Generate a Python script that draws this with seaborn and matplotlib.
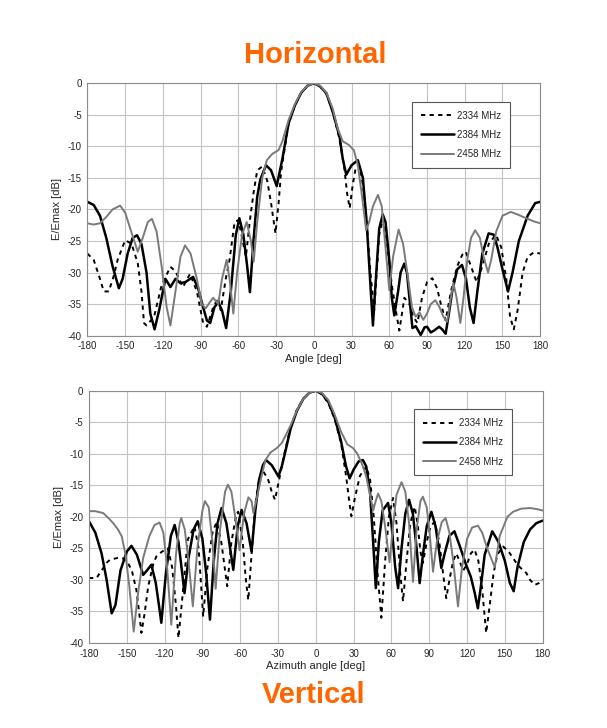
import numpy as np
import pandas as pd
import matplotlib
matplotlib.use("Agg")
import matplotlib.pyplot as plt
import seaborn as sns

# ---- Horizontal cut ----
h_2334_deg = [-180, -175, -170, -167, -163, -159, -156, -150, -145, -140, -137, -135, -133, -127, -121, -114, -110,
              -104, -98.4, -93, -88, -85, -80, -76, -74, -70, -67, -63, -60, -57, -54, -51, -48, -45, -41, -37, -34,
              -30.5, -28, -26, -20, -15, -10, -5, 0, 5, 10, 15, 20, 24, 26.5, 28.5, 31, 33.5, 36, 39, 42, 45, 48, 50,
              52, 55, 58, 62, 66, 68, 72, 76, 79, 82.4, 86, 90, 94.2, 98, 101, 104.8, 109, 114, 118, 120.8, 124,
              129.4, 134, 139, 144.7, 149, 153, 156, 159, 162, 166, 170, 175, 180]
h_2334_db = [-27, -28, -31, -33, -33, -30.5, -28, -24.9, -25.4, -28.5, -33, -38, -38.4, -37, -32, -29.1, -29.8,
             -32.3, -30.2, -33, -38, -38.6, -35.5, -34, -36, -31, -28, -22, -21.7, -24.5, -27.5, -22, -17.5, -13.8,
             -13.2, -15.5, -19, -23.8, -19, -14, -6.3, -3.5, -1.5, -0.4, 0, -0.5, -1.7, -4.5, -8.5, -13, -17.5,
             -19.8, -16, -13.2, -13, -16, -22, -30, -36, -30, -24, -21.5, -25, -32, -37, -39.2, -34, -35, -37, -38,
             -34, -31.5, -30.9, -32.5, -35, -37.6, -33, -29, -27.2, -26.7, -28.5, -31.5, -29, -25.5, -24, -26, -31,
             -37, -39, -36, -30, -27.5, -26.8, -27]

h_2384_deg = [-180, -175, -170, -165, -160, -155, -152, -148, -144, -140.5, -137, -133, -130, -126.6, -123, -118,
              -114, -110, -106, -102, -96, -92, -88, -85, -82.4, -79, -76, -73, -69.7, -66, -62, -59.2, -56, -53,
              -50.8, -48, -45, -42.6, -38, -34, -29.5, -25, -20, -15, -10, -5, 0, 5, 10, 15, 20.5, 23, 25.8, 30, 35,
              39, 42, 45, 47, 49, 52, 54.8, 57, 60, 62, 64, 67, 69, 71.9, 74, 76, 78.4, 81, 85, 88, 90, 93, 95.6,
              99.6, 102, 104.8, 107, 110, 114, 117.8, 121, 124, 127, 130, 134, 139, 143, 146, 150, 154.4, 158, 163,
              170, 176, 180]
h_2384_db = [-18.8, -19.3, -21, -24.5, -29, -32.5, -31, -27, -24.5, -24.1, -25.5, -30, -36.5, -39, -36, -31, -32.3,
             -31, -31.7, -31.5, -30.7, -32.5, -35.5, -37.6, -38, -35.5, -34.7, -36, -38.8, -33, -24, -21.4, -24, -29,
             -33.1, -25, -18, -15.3, -13, -13.8, -16.3, -12, -6.3, -3.5, -1.5, -0.4, 0, -0.5, -1.6, -4.5, -8.5, -12,
             -14.5, -13, -12.2, -15, -22, -32, -38.4, -32, -23, -20.8, -22, -28, -34, -36.8, -33, -30, -28.6, -30,
             -34, -38.8, -38.5, -39.9, -38.7, -38.6, -39.5, -39.2, -38.6, -39, -39.7, -37, -33, -29.5, -28.8, -31,
             -35.5, -38, -33, -27, -23.8, -24, -26, -29.5, -33, -30, -25, -21, -19, -18.8]

h_2458_deg = [-180, -175, -170, -165, -160, -154, -150, -146, -140, -136, -132, -128.7, -125, -121, -117, -114, -110,
              -106, -102.4, -98, -93, -89, -86, -83, -80, -76, -73, -69.3, -67, -64, -61, -57, -53.4, -50, -47.8,
              -45, -41, -37.4, -33, -28, -25, -20, -15, -10, -5, 0, 5, 10, 15, 19, 23, 28, 31.8, 35, 38.4, 41.6, 44,
              47, 51, 54, 57, 60, 63, 67.4, 71, 75, 78, 81, 84, 87, 90, 93, 96.6, 100, 103, 106, 108.5, 111, 113.5,
              116.5, 119, 122, 125, 128.3, 132, 135, 138.5, 141, 145, 150, 156.6, 162, 170, 175, 180]
h_2458_db = [-22.2, -22.4, -22.2, -21.2, -20, -19.4, -20.5, -23, -26.7, -24.5, -22, -21.5, -23.5, -29, -35.5, -38.4,
             -33, -27.5, -25.7, -27, -31, -35, -35.7, -34.8, -34, -35, -31, -28, -31, -36.5, -30, -24, -22, -25,
             -28.3, -22, -15, -12.2, -11.2, -10.6, -9.2, -5.8, -3.3, -1.4, -0.4, 0, -0.4, -1.5, -4, -7.2, -9.2,
             -9.8, -10.6, -13, -18, -23.3, -22, -19.5, -17.7, -19.5, -26, -32.8, -27.5, -23.2, -25.5, -31, -35.5,
             -37, -36.3, -37.5, -36.5, -35, -34.4, -35.5, -37, -37.8, -34.5, -31.7, -34, -38, -34, -28, -24.5, -23.3,
             -24.5, -27.5, -30, -28, -23.5, -21, -20.4, -20.8, -21.5, -21.9, -22.2]

# ---- Vertical cut ----
v_2334_deg = [-180, -174, -170, -166, -163.4, -157, -153, -150, -146, -142.4, -140, -138.4, -136, -133, -129, -126.6,
              -122, -117.4, -114, -111, -109, -106, -101.6, -96.3, -93, -91, -89.4, -86, -82, -78.7, -75, -72, -70.3,
              -67, -63, -61.6, -58, -55.5, -53.6, -51, -48, -45, -42, -38, -35, -32.4, -29, -25, -20, -15, -10, -5,
              0, 5, 10, 15, 20, 24, 26.5, 28.2, 31, 35, 40, 43, 46, 49, 52, 55, 58, 61.3, 64, 67, 69.2, 72, 75, 78.5,
              81, 83, 85, 88, 91, 94.3, 98, 101, 103.5, 106, 109, 111.5, 114, 117, 120, 123, 126, 129, 132, 135.2,
              138, 141, 144, 148.6, 153, 158, 162, 167, 170, 173.8, 177, 180]
v_2334_db = [-29.7, -29.7, -28.5, -27.3, -26.8, -26.5, -26.6, -27, -28.5, -31.6, -35.5, -38.4, -35.5, -31, -27.5,
             -26.3, -25.5, -25, -28, -34, -39.2, -33, -23.6, -21.5, -25, -31, -35.8, -28, -22.5, -20.8, -24, -28.5,
             -31, -24, -19.5, -19.2, -24, -30, -33.2, -26, -18, -14, -12.7, -14, -16, -17.3, -14, -10, -5.7, -3, -1.3,
             -0.3, 0, -0.6, -2, -4.5, -8.3, -13.5, -17.5, -19.9, -17, -13.5, -12, -14, -20, -29, -36, -27, -20, -17,
             -21, -29, -33.4, -27, -21, -18.4, -21.5, -25.5, -27.3, -24, -21.5, -20.8, -24, -29, -32.9, -30, -27,
             -25.8, -27, -28.5, -27.5, -25.8, -25.2, -27, -31.5, -38.4, -34, -29, -26, -24.7, -25.5, -27, -28, -28.9,
             -30, -30.8, -30.5, -29.9]

v_2384_deg = [-180, -175, -170, -166, -162, -159, -155, -150, -146.3, -142, -137, -134, -130.5, -127, -124.5, -122.6,
              -119, -115, -112, -109, -106, -104.2, -101, -97, -93.7, -90, -87, -84, -81, -78, -74.8, -71, -68, -65.5,
              -62, -58.9, -55, -51, -48, -45, -42, -39.5, -35, -32, -29.7, -27, -24, -20, -15, -10, -5, 0, 5, 10, 15,
              20, 24, 26.8, 30, 34, 37.4, 40, 43, 45.5, 47.6, 50, 53, 57.3, 60, 63, 65.3, 68, 71, 74, 77, 80, 82.4,
              85, 88, 91.7, 95, 97.5, 99.6, 102, 106, 110, 114, 119.4, 123, 126, 128.6, 131, 134, 140, 145, 150, 154,
              157, 160, 165, 170, 175, 180]
v_2384_db = [-20.7, -22.5, -25.8, -30, -35.3, -34, -28.5, -25.5, -24.6, -26, -29.2, -28.5, -27.6, -30.5, -34, -36.8,
             -29, -23, -21.3, -24, -29, -32.1, -26.5, -22, -20.7, -23.5, -29, -36.3, -27, -21, -18.6, -21, -25, -28.4,
             -21.5, -18.9, -21, -25.5, -19, -14.1, -11.8, -11, -11.8, -12.8, -13.6, -12, -9.5, -6, -3.2, -1.3, -0.3,
             0, -0.5, -1.8, -4.3, -8, -12, -13.9, -12.5, -11.2, -11, -12, -16, -24, -31.3, -24, -19, -17.8, -21, -28,
             -31.3, -25, -19.5, -17.3, -19.5, -25, -30.5, -26, -21.5, -19.2, -21.5, -25, -28.1, -26, -23, -22.3,
             -24.5, -27.7, -29.5, -32, -34.5, -31, -26, -22.3, -24, -27, -30.5, -31.8, -28, -24, -22, -21, -20.6]

v_2458_deg = [-180, -175, -168.7, -164, -160.8, -157, -154, -151, -148, -144.5, -141, -137, -132, -128, -124, -121,
              -118, -114.7, -111, -108, -106.8, -104, -101, -97.6, -94, -90, -88, -85, -82, -79.5, -76, -72, -69.8,
              -67, -64, -60.5, -57, -53.5, -51, -49.5, -46.8, -43, -40, -36, -31, -27, -20, -15, -10, -5, 0, 5, 10,
              15, 20, 25, 29.5, 33, 37, 40, 43, 45.5, 47.5, 49.4, 52, 55, 58.5, 61, 64, 68, 71, 74, 77.1, 80, 83, 85,
              88, 90.5, 93, 96, 100, 103, 106, 109, 112.8, 116, 120, 124, 128.6, 132, 136, 142, 146, 152, 156.5, 163,
              170, 176, 180]
v_2458_db = [-19.1, -19.1, -19.4, -20.3, -21, -22, -23.1, -26, -31, -38.2, -32, -26.5, -23, -21.3, -20.9, -22.5, -28,
             -37.1, -26, -21, -20.2, -22, -27, -34.2, -25, -19, -17.5, -18.5, -24, -31.4, -22, -16, -14.9, -16, -20,
             -25.3, -19.5, -16.9, -17.5, -19.4, -17, -13.5, -11, -9.8, -9.1, -8.3, -5.5, -3.1, -1.3, -0.3, 0, -0.4,
             -1.5, -3.8, -6.5, -8.5, -9.1, -10, -11.8, -13.6, -16.5, -19, -17.5, -16.3, -17.5, -21.5, -27.2, -22,
             -16.5, -14.5, -16, -21, -30.3, -22, -17.5, -16.8, -18.5, -23, -28.7, -24, -20.8, -20.2, -22.5, -27,
             -34.2, -28, -23.5, -21.7, -21.4, -22.5, -25, -28, -23, -20, -19.2, -18.7, -18.6, -18.8, -19]

labels = ["2334 MHz", "2384 MHz", "2458 MHz"]
orange = "#ff6600"

sns.set_style("whitegrid", {"grid.color": "#c4c4c4", "axes.edgecolor": "#8c8c8c"})
plt.rcParams["font.family"] = ["Liberation Sans", "DejaVu Sans"]
plt.rcParams["axes.unicode_minus"] = False

fig = plt.figure(figsize=(6.07, 7.28), dpi=100)
ax_h = fig.add_axes([0.144, 0.539, 0.746, 0.3467])
ax_v = fig.add_axes([0.1466, 0.1168, 0.7474, 0.3465])


def draw(ax, curves, xlabel):
    styles = [dict(color="black", lw=1.4, linestyle=(0, (2.2, 2.2))),
              dict(color="black", lw=1.8, linestyle="-"),
              dict(color="#7a7a7a", lw=1.4, linestyle="-")]
    for (deg, db), lab, st in zip(curves, labels, styles):
        df = pd.DataFrame({"angle": deg, "db": db})
        sns.lineplot(data=df, x="angle", y="db", ax=ax, label=lab, sort=False, **st)
    ax.set_xlim(-180, 180)
    ax.set_ylim(-40, 0)
    ax.set_xticks(range(-180, 181, 30))
    ax.set_yticks(range(-40, 1, 5))
    ax.grid(True, lw=0.8)
    for s in ax.spines.values():
        s.set_linewidth(0.8)
    ax.tick_params(labelsize=7, length=0, pad=4)
    ax.set_xlabel(xlabel, fontsize=8, labelpad=2)
    ax.set_ylabel("E/Emax [dB]", fontsize=8, labelpad=4)
    leg = ax.legend(loc="upper left", bbox_to_anchor=(0.717, 0.926), fontsize=7, frameon=True,
                    fancybox=False, edgecolor="#555555", framealpha=1, handlelength=3.4,
                    handletextpad=0.3, labelspacing=0.95, borderpad=0.9, borderaxespad=0)
    leg.get_frame().set_linewidth(0.8)


draw(ax_h, [(h_2334_deg, h_2334_db), (h_2384_deg, h_2384_db), (h_2458_deg, h_2458_db)], "Angle [deg]")
draw(ax_v, [(v_2334_deg, v_2334_db), (v_2384_deg, v_2384_db), (v_2458_deg, v_2458_db)], "Azimuth angle [deg]")

fig.text(0.519, 1 - 55 / 728, "Horizontal", color=orange, fontsize=21, fontweight="bold", ha="center", va="center")
fig.text(0.516, 1 - 695 / 728, "Vertical", color=orange, fontsize=21, fontweight="bold", ha="center", va="center")

fig.savefig("out.png", dpi=100)
